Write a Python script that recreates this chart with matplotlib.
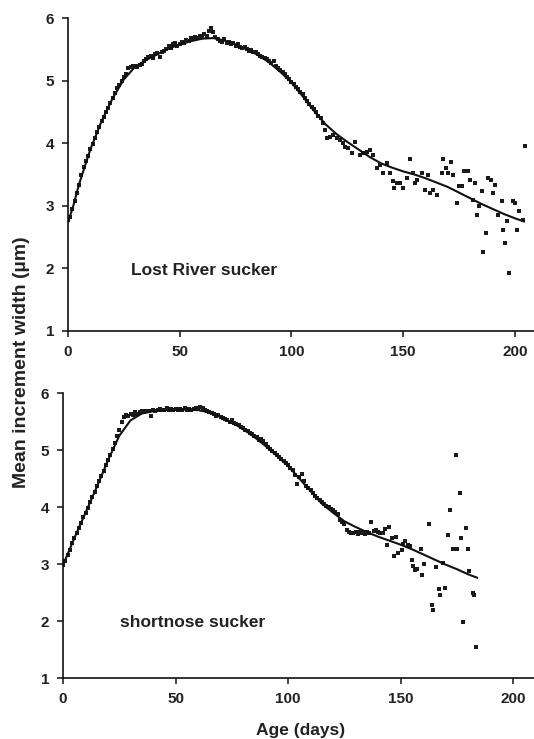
import matplotlib
matplotlib.use("Agg")
import matplotlib.pyplot as plt

plt.rcParams['font.family'] = ['Liberation Sans', 'DejaVu Sans']

# ---------------- Lost River sucker ----------------
lrs_days = list(range(0, 115)) + [
    115, 115.7, 117.2, 118.7, 120.2, 121.7, 123.2, 124, 125.4, 126.9, 128.4, 130.6, 132.1, 133.6,
    135.1, 136.6, 138.1, 139.6, 141.1, 142.6, 144.1, 145.3, 145.9, 147.1, 148.5, 149.7, 151.5,
    153, 154.5, 155.2, 156.3, 158.2, 159.7, 161.2, 162, 163.5, 165, 167.2, 167.9, 169.1, 170.2,
    171.2, 172.4, 173.9, 175.1, 176.1, 177.2, 179.1, 179.9, 181.3, 182.1, 182.8, 183.9, 185.1,
    185.5, 187, 188.1, 189.1, 190, 191.1, 192.6, 194, 194.5, 195.5, 196.5, 197.5, 199, 200,
    200.7, 201.9, 203.7, 204.5]
lrs_vals = [
    2.78, 2.82, 2.95, 3.08, 3.20, 3.33, 3.50, 3.62, 3.72, 3.80,
    3.90, 3.98, 4.08, 4.18, 4.26, 4.35, 4.42, 4.50, 4.57, 4.64,
    4.72, 4.80, 4.88, 4.93, 5.00, 5.06, 5.10, 5.20, 5.22, 5.23,
    5.24, 5.22, 5.25, 5.27, 5.32, 5.35, 5.38, 5.40, 5.36, 5.42,
    5.44, 5.38, 5.45, 5.48, 5.50, 5.55, 5.52, 5.58, 5.60, 5.55,
    5.58, 5.62, 5.60, 5.65, 5.63, 5.68, 5.66, 5.70, 5.68, 5.72,
    5.70, 5.74, 5.72, 5.80, 5.84, 5.78, 5.70, 5.66, 5.64, 5.62,
    5.66, 5.60, 5.62, 5.58, 5.60, 5.56, 5.58, 5.54, 5.52, 5.53,
    5.50, 5.48, 5.49, 5.46, 5.45, 5.42, 5.40, 5.38, 5.36, 5.35,
    5.32, 5.28, 5.31, 5.24, 5.20, 5.17, 5.13, 5.10, 5.06, 5.02,
    4.98, 4.94, 4.90, 4.86, 4.82, 4.78, 4.73, 4.68, 4.63, 4.58,
    4.54, 4.50, 4.44, 4.40, 4.32,
    4.21, 4.09, 4.10, 4.13, 4.08, 4.05, 4.00, 3.94, 3.92, 3.84, 4.02, 3.81, 3.84, 3.86,
    3.89, 3.81, 3.60, 3.65, 3.52, 3.68, 3.52, 3.39, 3.28, 3.37, 3.36, 3.28, 3.45,
    3.74, 3.52, 3.36, 3.41, 3.52, 3.26, 3.49, 3.20, 3.25, 3.17, 3.52, 3.74, 3.60, 3.52,
    3.70, 3.49, 3.05, 3.32, 3.32, 3.56, 3.56, 3.41, 3.10, 3.36, 2.85, 2.99, 3.24,
    2.27, 2.56, 3.44, 3.41, 3.21, 3.33, 2.85, 3.08, 2.62, 2.40, 2.75, 1.92, 3.07, 3.04,
    2.62, 2.92, 2.77, 3.96]
lrs_fit_days = [0, 2, 5, 10, 15, 20, 25, 30, 35, 40, 45, 50, 55, 60, 65, 70, 75, 80, 85,
                90, 95, 100, 105, 110, 115, 120, 125, 130, 135, 140, 145, 150, 155, 160,
                165, 170, 175, 180, 185, 190, 195, 200, 204]
lrs_fit_vals = [2.75, 2.95, 3.35, 3.90, 4.35, 4.72, 5.02, 5.22, 5.33, 5.42, 5.51, 5.58,
                5.63, 5.67, 5.68, 5.64, 5.58, 5.50, 5.41, 5.29, 5.14, 4.97, 4.75, 4.52,
                4.31, 4.15, 4.02, 3.90, 3.78, 3.68, 3.61, 3.55, 3.50, 3.44, 3.37, 3.30,
                3.21, 3.12, 3.03, 2.95, 2.87, 2.80, 2.75]

# ---------------- shortnose sucker ----------------
sns_days = list(range(0, 150)) + [
    150.5, 151, 152, 153.5, 154, 155, 155.7, 156.5, 157.5, 159.1, 159.7, 160.6, 162.8, 163.9,
    164.6, 165.8, 167.3, 167.6, 168.8, 169.8, 171, 172, 173.1, 174.5, 175, 176.2, 176.9,
    177.7, 179, 179.9, 180.6, 182.1, 182.6, 183.6]
sns_vals = [
    2.98, 3.05, 3.15, 3.25, 3.36, 3.45, 3.55, 3.63, 3.72, 3.82,
    3.90, 3.99, 4.08, 4.18, 4.27, 4.36, 4.45, 4.55, 4.63, 4.73,
    4.82, 4.92, 5.02, 5.12, 5.25, 5.35, 5.50, 5.58, 5.62, 5.60,
    5.64, 5.62, 5.66, 5.64, 5.67, 5.68, 5.66, 5.68, 5.69, 5.60,
    5.70, 5.69, 5.70, 5.72, 5.70, 5.71, 5.73, 5.70, 5.72, 5.71,
    5.72, 5.70, 5.72, 5.71, 5.73, 5.71, 5.72, 5.70, 5.72, 5.74,
    5.72, 5.75, 5.73, 5.70, 5.68, 5.67, 5.65, 5.64, 5.60, 5.62,
    5.58, 5.56, 5.55, 5.53, 5.50, 5.52, 5.48, 5.45, 5.43, 5.41,
    5.38, 5.35, 5.33, 5.30, 5.28, 5.25, 5.22, 5.18, 5.20, 5.15,
    5.10, 5.05, 5.02, 4.98, 4.95, 4.92, 4.88, 4.85, 4.81, 4.77,
    4.73, 4.69, 4.65, 4.56, 4.40, 4.52, 4.58, 4.45, 4.36, 4.34,
    4.30, 4.25, 4.20, 4.15, 4.12, 4.08, 4.05, 4.02, 4.00, 3.97,
    3.95, 3.92, 3.88, 3.78, 3.74, 3.70, 3.60, 3.56, 3.54, 3.55,
    3.57, 3.53, 3.56, 3.55, 3.52, 3.56, 3.54, 3.74, 3.58, 3.60,
    3.56, 3.55, 3.54, 3.61, 3.33, 3.65, 3.45, 3.14, 3.47, 3.20,
    3.25, 3.35, 3.40, 3.33, 3.32, 3.07, 2.97, 2.90, 2.91, 3.26, 2.80, 3.00, 3.70, 2.28,
    2.19, 2.94, 2.56, 2.46, 3.02, 2.58, 3.51, 3.95, 3.26, 4.91, 3.26, 4.25, 3.45,
    1.98, 3.64, 3.27, 2.88, 2.49, 2.46, 1.55]
sns_fit_days = [0, 5, 10, 15, 20, 25, 30, 35, 40, 45, 50, 55, 60, 65, 70, 75, 80, 85, 90,
                95, 100, 105, 110, 115, 120, 125, 130, 135, 140, 145, 150, 155, 160, 165,
                170, 175, 180, 184]
sns_fit_vals = [2.98, 3.45, 3.90, 4.35, 4.82, 5.25, 5.52, 5.64, 5.68, 5.70, 5.71, 5.71,
                5.70, 5.66, 5.58, 5.48, 5.37, 5.23, 5.07, 4.90, 4.72, 4.50, 4.28, 4.06,
                3.90, 3.75, 3.65, 3.56, 3.48, 3.41, 3.34, 3.26, 3.17, 3.08, 2.99, 2.91,
                2.82, 2.76]

y_ticks = [1, 2, 3, 4, 5, 6]
x_ticks = [0, 50, 100, 150, 200]

fig = plt.figure(figsize=(5.34, 7.39), dpi=100)
ax1 = fig.add_axes([0.1273, 0.5521, 0.8727, 0.4235])
ax2 = fig.add_axes([0.118, 0.0825, 0.882, 0.3857])

panels = [
    (ax1, lrs_days, lrs_vals, lrs_fit_days, lrs_fit_vals, "Lost River sucker", 28, 1.97, 208.5),
    (ax2, sns_days, sns_vals, sns_fit_days, sns_fit_vals, "shortnose sucker", 25.5, 1.98, 209.3),
]
for ax, d, v, fd, fv, label, tx, ty, xmax in panels:
    ax.plot(d, v, 's', ms=2.6, color='#1a1a1a', mew=0)
    ax.plot(fd, fv, '-', color='#111111', lw=1.5)
    ax.set_xlim(0, xmax)
    ax.set_ylim(1, 6)
    ax.set_yticks(y_ticks)
    ax.set_xticks(x_ticks)
    for s in ['top', 'right']:
        ax.spines[s].set_visible(False)
    for s in ['left', 'bottom']:
        ax.spines[s].set_linewidth(1.2)
        ax.spines[s].set_color('#111111')
    ax.tick_params(direction='out', length=4, width=1.1, colors='#111111',
                   labelsize=11, pad=6)
    for t in ax.get_xticklabels() + ax.get_yticklabels():
        t.set_fontweight('bold')
        t.set_color('#222222')
    ax.text(tx, ty, label, fontsize=12.5, fontweight='bold', color='#222222',
            ha='left', va='center')

fig.text(0.040, 0.510, "Mean increment width (µm)", rotation=90, fontsize=14,
         fontweight='bold', color='#222222', ha='center', va='center')
fig.text(0.562, 0.012, "Age (days)", fontsize=12.5, fontweight='bold', color='#222222',
         ha='center', va='center')

fig.savefig("out.png", dpi=100)
